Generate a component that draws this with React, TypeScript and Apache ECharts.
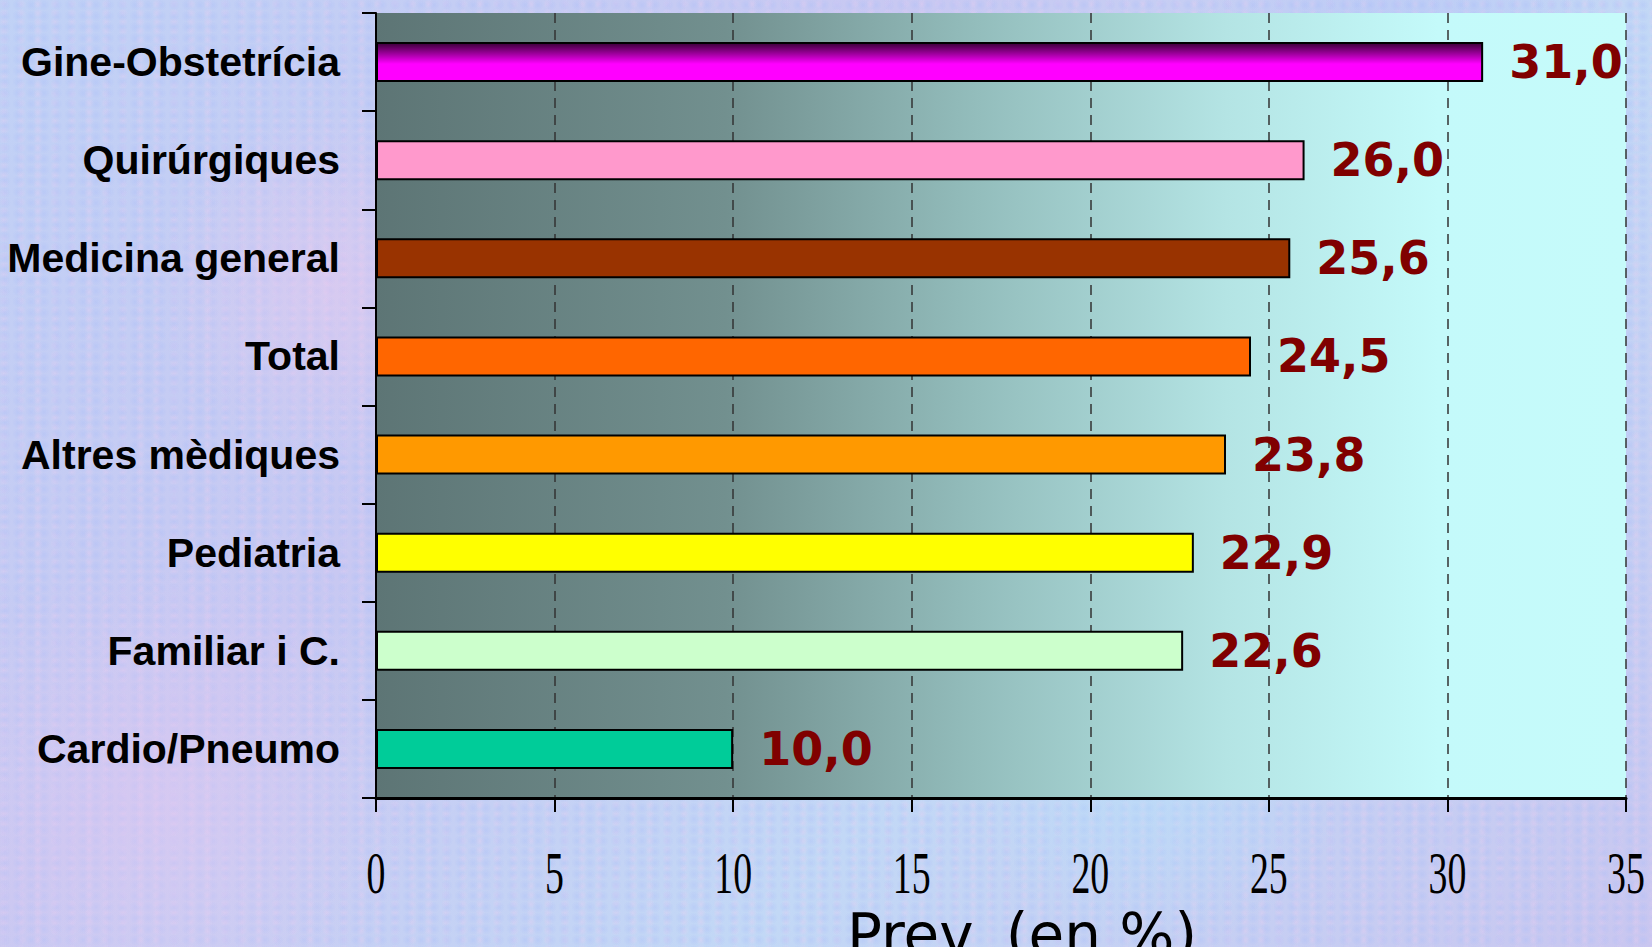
import React, { useEffect, useRef } from "react";
import * as echarts from "echarts";

const categories = [
  "Gine-Obstetrícia",
  "Quirúrgiques",
  "Medicina general",
  "Total",
  "Altres mèdiques",
  "Pediatria",
  "Familiar i C.",
  "Cardio/Pneumo",
];
const values = [31.0, 26.0, 25.6, 24.5, 23.8, 22.9, 22.6, 10.0];
const barColors: any[] = [
  {
    type: "linear",
    x: 0,
    y: 0,
    x2: 0,
    y2: 1,
    colorStops: [
      { offset: 0, color: "#3a0038" },
      { offset: 0.55, color: "#ff00ff" },
      { offset: 1, color: "#ff00ff" },
    ],
  },
  "#ff99cc",
  "#993300",
  "#ff6600",
  "#ff9900",
  "#ffff00",
  "#ccffcc",
  "#00cc99",
];
const xTicks = [0, 5, 10, 15, 20, 25, 30, 35];
const axisTitle = "Prev. (en %)";

export default function App() {
  const ref = useRef<HTMLDivElement>(null);

  useEffect(() => {
    if (!ref.current) return;
    const chart = echarts.init(ref.current, null, { renderer: "svg" });
    const option: any = {
      animation: false,
      backgroundColor: "transparent",
      grid: {
        left: 376,
        right: 26,
        top: 13,
        bottom: 149,
        containLabel: false,
        outerBoundsMode: "none",
        show: true,
        borderWidth: 0,
        backgroundColor: {
          type: "linear",
          x: 0,
          y: 0,
          x2: 1,
          y2: 0,
          colorStops: [
            { offset: 0, color: "#5d7575" },
            { offset: 0.28, color: "#72908f" },
            { offset: 0.48, color: "#93bdbc" },
            { offset: 0.68, color: "#b4e4e4" },
            { offset: 0.85, color: "#c4fafa" },
            { offset: 1, color: "#c6fbfa" },
          ],
        },
      },
      xAxis: {
        type: "value",
        min: 0,
        max: 35,
        interval: 5,
        name: axisTitle,
        nameLocation: "middle",
        nameGap: 108,
        nameTextStyle: {
          fontFamily: "DejaVu Sans",
          fontSize: 58,
          color: "#000",
          padding: [0, 0, 0, 42],
          textShadowColor: "rgba(90,90,90,0.8)",
          textShadowOffsetX: 3,
          textShadowOffsetY: 3,
          textShadowBlur: 0,
        },
        axisLine: { show: true, lineStyle: { color: "#000", width: 3 } },
        axisTick: { show: true, length: 14, lineStyle: { color: "#000", width: 2 } },
        axisLabel: { show: false },
        splitLine: {
          show: true,
          lineStyle: { color: "#333", width: 1.5, type: [10, 7] },
        },
      },
      yAxis: {
        type: "category",
        inverse: true,
        data: categories,
        axisLine: { show: true, lineStyle: { color: "#000", width: 2 } },
        axisTick: { show: true, length: 14, lineStyle: { color: "#000", width: 2 } },
        axisLabel: {
          margin: 36,
          color: "#000",
          fontFamily: "Liberation Sans",
          fontWeight: "bold",
          fontSize: 41,
        },
        splitLine: { show: false },
      },
      series: [
        {
          type: "bar",
          barWidth: 40,
          data: values.map((v, i) => ({
            value: v,
            itemStyle: { color: barColors[i] },
          })),
          itemStyle: { borderColor: "#000", borderWidth: 2 },
          label: {
            show: true,
            position: "right",
            distance: 26,
            color: "#800000",
            fontFamily: "DejaVu Sans",
            fontWeight: "bold",
            fontSize: 46,
            formatter: (p: any) => Number(p.value).toFixed(1).replace(".", ","),
          },
        },
      ],
    };
    chart.setOption(option);

    const tickGraphics = xTicks.map((t) => {
      const px = chart.convertToPixel({ xAxisIndex: 0 }, t) as number;
      return {
        type: "text",
        x: px,
        y: 873,
        scaleX: 0.63,
        silent: true,
        style: {
          text: String(t),
          x: 0,
          y: 0,
          align: "center",
          verticalAlign: "middle",
          fontFamily: "Liberation Serif",
          fontSize: 60,
          fill: "#000",
        },
      };
    });
    chart.setOption({ graphic: tickGraphics });

    return () => chart.dispose();
  }, []);

  const bg =
    "radial-gradient(circle at 20% 30%, rgba(250,200,235,0.35) 0, rgba(250,200,235,0) 12%)," +
    "radial-gradient(circle at 70% 80%, rgba(170,235,255,0.35) 0, rgba(170,235,255,0) 14%)," +
    "radial-gradient(circle at 85% 15%, rgba(160,180,250,0.4) 0, rgba(160,180,250,0) 15%)," +
    "radial-gradient(circle at 10% 85%, rgba(235,200,240,0.4) 0, rgba(235,200,240,0) 15%)," +
    "radial-gradient(circle at 5px 5px, rgba(170,190,250,0.35) 0, rgba(170,190,250,0) 6px) 0 0 / 13px 11px," +
    "radial-gradient(circle at 4px 4px, rgba(240,205,240,0.3) 0, rgba(240,205,240,0) 5px) 0 0 / 17px 9px," +
    "linear-gradient(135deg, #c0d2f6 0%, #c8c8f2 35%, #c2d8f6 65%, #c9c6f0 100%)";

  return (
    <div
      style={{
        position: "fixed",
        left: 0,
        top: 0,
        width: 1652,
        height: 947,
        background: bg,
      }}
    >
      <div ref={ref} style={{ width: 1652, height: 947 }} />
    </div>
  );
}
